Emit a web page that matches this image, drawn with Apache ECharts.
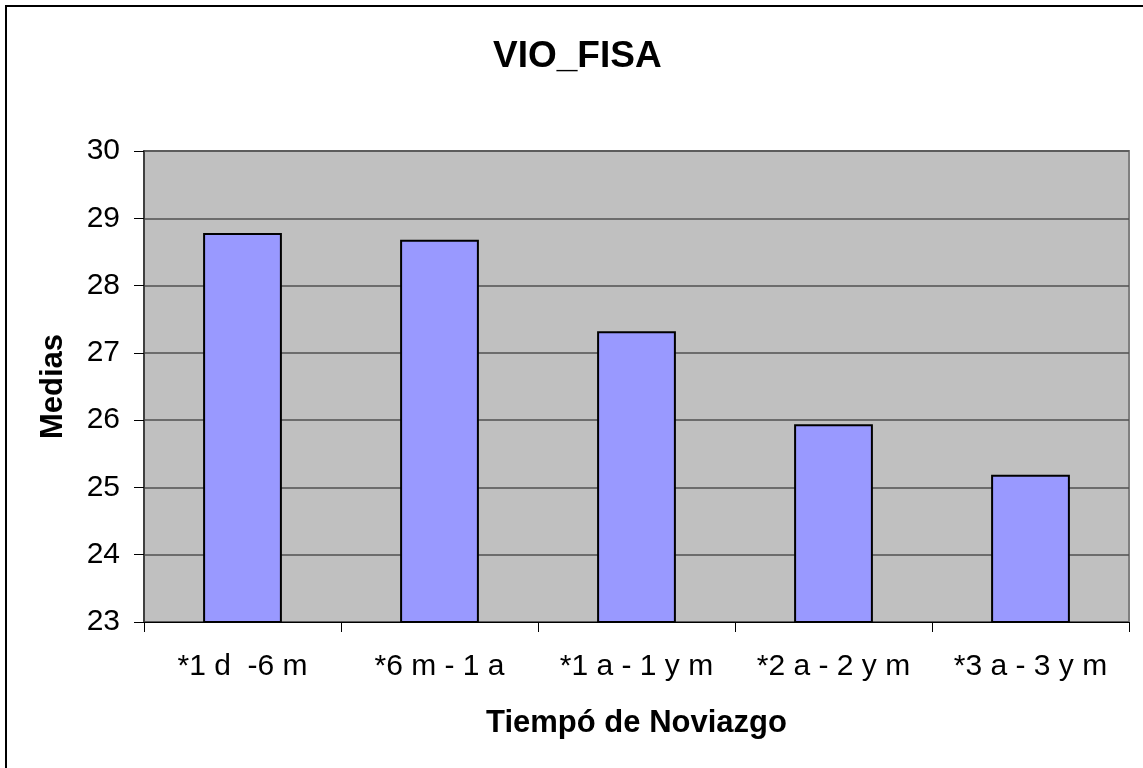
<!DOCTYPE html>
<html>
<head>
<meta charset="utf-8">
<script src="https://cdn.jsdelivr.net/npm/echarts@6/dist/echarts.min.js"></script>
<style>
html,body{margin:0;padding:0;background:#fff;}
#chart{width:1143px;height:768px;}
</style>
</head>
<body>
<div id="chart"></div>
<script>
const titleText = 'VIO_FISA';
const categories = ['*1 d  -6 m', '*6 m - 1 a', '*1 a - 1 y m', '*2 a - 2 y m', '*3 a - 3 y m'];
const medias = [28.78, 28.68, 27.32, 25.94, 25.19];
const yTicks = { min: 23, max: 30, interval: 1 };
const xName = 'Tiempó de Noviazgo';
const yName = 'Medias';

const font = "'Liberation Sans', Arial, Helvetica, sans-serif";
const chart = echarts.init(document.getElementById('chart'));
chart.setOption({
  animation: false,
  backgroundColor: '#ffffff',
  graphic: [
    { type: 'rect', shape: { x: 6, y: 6, width: 1300, height: 900 }, style: { fill: 'none', stroke: '#000', lineWidth: 2 }, z: 100 },
    { type: 'text', left: 578 - 85, top: 38, style: { text: titleText, font: 'bold 37px ' + font, fill: '#000' } }
  ],
  grid: {
    left: 144, right: 14, top: 151, bottom: 146,
    containLabel: false, outerBoundsMode: 'none',
    show: true, backgroundColor: '#c0c0c0', borderColor: '#808080', borderWidth: 2
  },
  xAxis: {
    type: 'category',
    data: categories,
    boundaryGap: true,
    name: xName,
    nameLocation: 'middle',
    nameGap: 86,
    nameTextStyle: { fontFamily: font, fontWeight: 'bold', fontSize: 31, color: '#000' },
    axisLine: { show: true, lineStyle: { color: '#000', width: 1 } },
    axisTick: { show: true, alignWithLabel: false, length: 10, lineStyle: { color: '#000' } },
    axisLabel: { fontFamily: font, fontSize: 30, color: '#000', margin: 30, interval: 0 },
    splitLine: { show: false }
  },
  yAxis: {
    type: 'value',
    min: yTicks.min, max: yTicks.max, interval: yTicks.interval,
    name: yName,
    nameLocation: 'middle',
    nameRotate: 90,
    nameGap: 75,
    nameTextStyle: { fontFamily: font, fontWeight: 'bold', fontSize: 31, color: '#000' },
    axisLine: { show: true, lineStyle: { color: '#404040', width: 2 } },
    axisTick: { show: true, length: 10, lineStyle: { color: '#000' } },
    axisLabel: { fontFamily: font, fontSize: 30, color: '#000', margin: 24 },
    splitLine: { show: true, lineStyle: { color: '#505050', width: 1.5 } }
  },
  series: [{
    type: 'bar',
    data: medias,
    barWidth: '40%',
    itemStyle: { color: '#9999ff', borderColor: '#000', borderWidth: 2 }
  }]
});
</script>
</body>
</html>
